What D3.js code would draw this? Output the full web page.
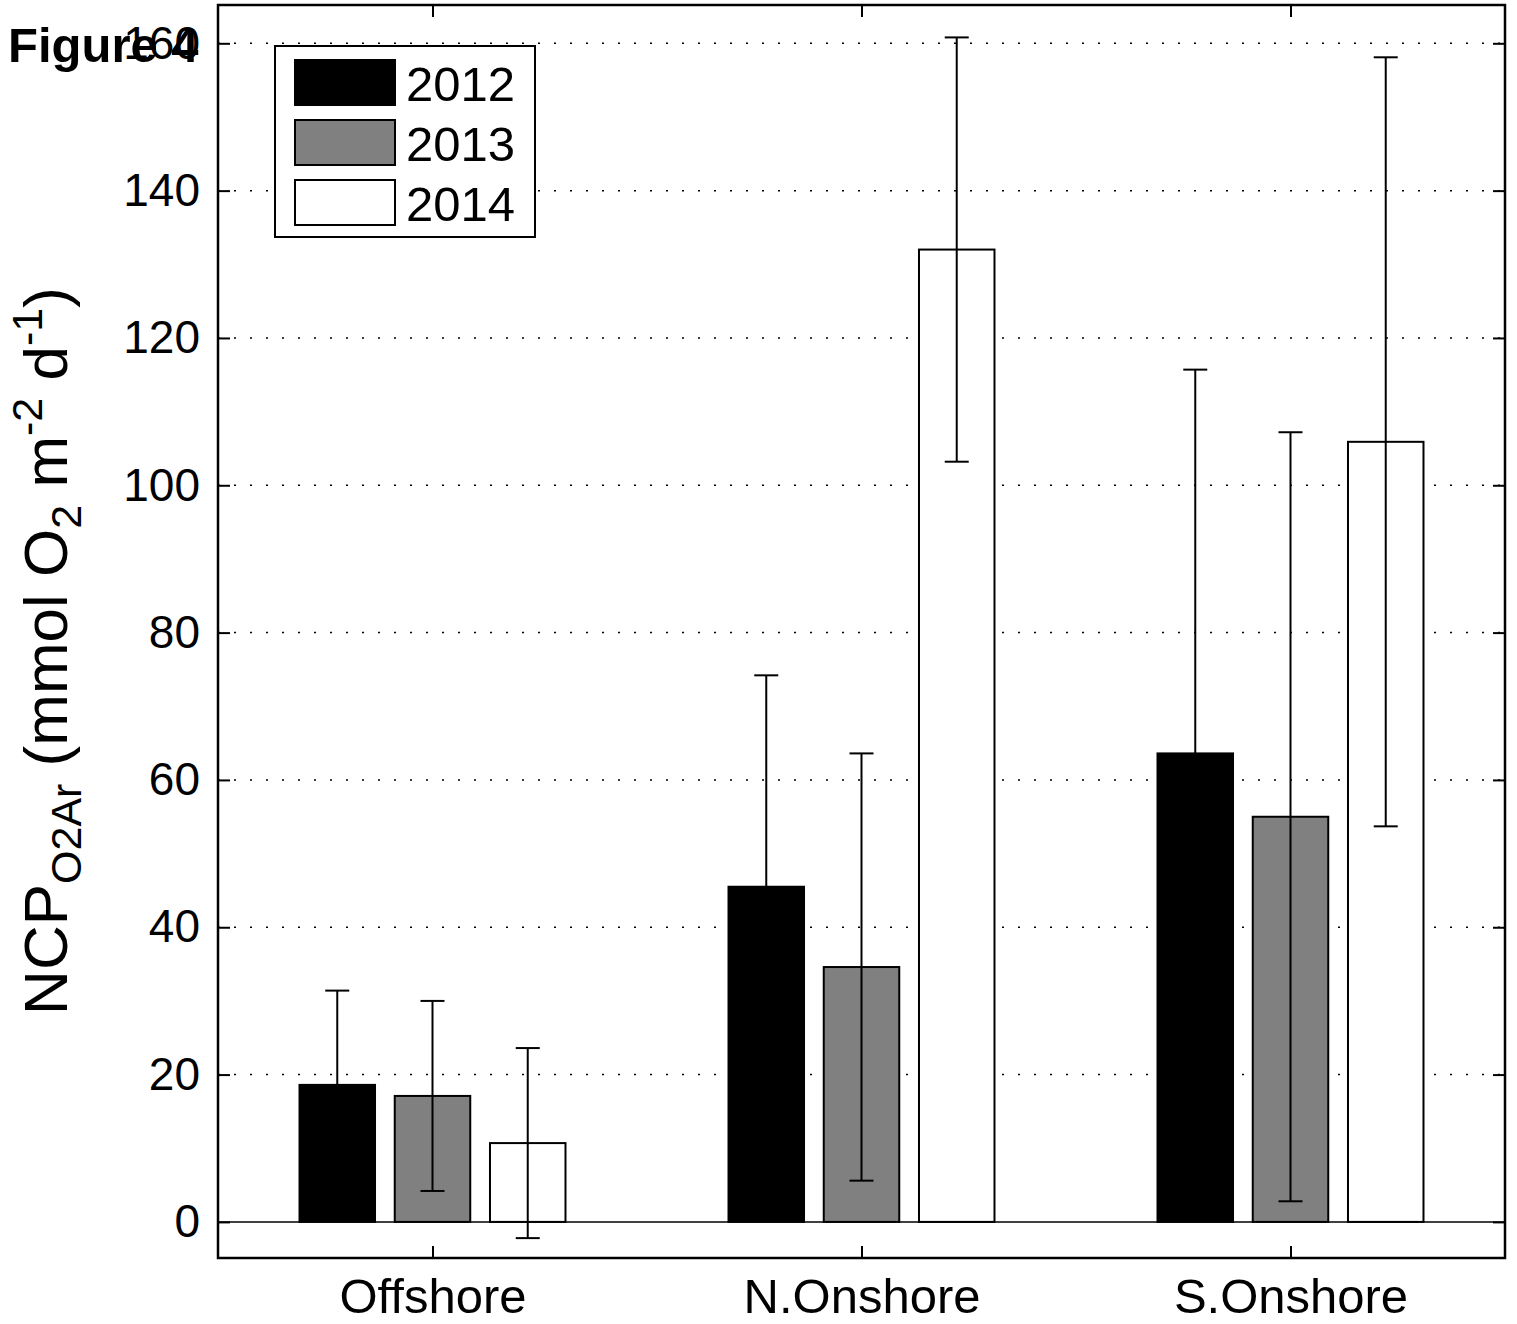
<!DOCTYPE html>
<html>
<head>
<meta charset="utf-8">
<script src="https://cdn.jsdelivr.net/npm/d3@7"></script>
<style>
  body { margin: 0; background: #fff; }
  text { font-family: "Liberation Sans", Arial, sans-serif; }
</style>
</head>
<body>
<svg width="1517" height="1324"></svg>
<script>
// data
let sites = ["Offshore", "N.Onshore", "S.Onshore"];
let years = ["2012", "2013", "2014"];
let yearColors = ["#000000", "#808080", "#ffffff"];
let ncp2012 = [18.6, 45.5, 63.6];
let ncp2013 = [17.1, 34.6, 55.0];
let ncp2014 = [10.7, 132.0, 105.9];
let err2012 = [12.8, 28.7, 52.1];
let err2013 = [12.9, 29.0, 52.2];
let err2014 = [12.9, 28.8, 52.2];
let yTicks = [0, 20, 40, 60, 80, 100, 120, 140, 160];

let values = [ncp2012, ncp2013, ncp2014];
let errors = [err2012, err2013, err2014];

let svg = d3.select("svg");
let pLeft = 218, pRight = 1505, pTop = 5, pBottom = 1258;

// x positions 1..3, axis limits 0.5..3.5 like matlab
let x = d3.scaleLinear().domain([0.5, 3.5]).range([pLeft, pRight]);
let y = d3.scaleLinear().domain([-4.9, 165.2]).range([pBottom, pTop]);
let barOffset = [-0.222, 0, 0.222];
let barW = 0.176;

// dotted grid
svg.append("g")
    .selectAll("line")
    .data(yTicks.filter(d => d !== 0))
    .enter().append("line")
    .attr("x1", pLeft).attr("x2", pRight)
    .attr("y1", d => y(d)).attr("y2", d => y(d))
    .attr("stroke", "#000")
    .attr("stroke-width", 1.5)
    .attr("stroke-dasharray", "2,14");

// zero line
svg.append("line")
    .attr("x1", pLeft).attr("x2", pRight)
    .attr("y1", y(0)).attr("y2", y(0))
    .attr("stroke", "#000").attr("stroke-width", 1.5);

// bars
let rows = [];
years.forEach(function (yr, j) {
    sites.forEach(function (s, i) {
        rows.push({site: i, year: j, v: values[j][i], e: errors[j][i]});
    });
});

svg.append("g")
    .selectAll("rect")
    .data(rows)
    .enter().append("rect")
    .attr("x", d => x(d.site + 1 + barOffset[d.year] - barW / 2))
    .attr("width", d => x(barW) - x(0))
    .attr("y", d => y(d.v))
    .attr("height", d => y(0) - y(d.v))
    .attr("fill", d => yearColors[d.year])
    .attr("stroke", "#000")
    .attr("stroke-width", 2);

// error bars
let eb = svg.append("g").selectAll("g")
    .data(rows)
    .enter().append("g")
    .attr("stroke", "#000")
    .attr("stroke-width", 2);

let cx = d => x(d.site + 1 + barOffset[d.year]);
eb.append("line")
    .attr("x1", cx).attr("x2", cx)
    .attr("y1", d => y(d.v - d.e)).attr("y2", d => y(d.v + d.e));
eb.append("line")
    .attr("x1", d => cx(d) - 12).attr("x2", d => cx(d) + 12)
    .attr("y1", d => y(d.v + d.e)).attr("y2", d => y(d.v + d.e));
eb.append("line")
    .attr("x1", d => cx(d) - 12).attr("x2", d => cx(d) + 12)
    .attr("y1", d => y(d.v - d.e)).attr("y2", d => y(d.v - d.e));

// axes box with inward ticks
let yAxisL = d3.axisLeft(y).tickValues(yTicks).tickSize(-12).tickPadding(18);
let yAxisR = d3.axisRight(y).tickValues(yTicks).tickSize(-12).tickFormat("");
let xAxisB = d3.axisBottom(x).tickValues([1, 2, 3]).tickSize(-12).tickPadding(20)
    .tickFormat((d, i) => sites[i]);
let xAxisT = d3.axisTop(x).tickValues([1, 2, 3]).tickSize(-12).tickFormat("");

function styleAxis(g, fs) {
    g.select(".domain").remove();
    g.selectAll("line").attr("stroke", "#000").attr("stroke-width", 2);
    g.selectAll("text").attr("font-size", fs).attr("fill", "#000")
        .style("font-family", "'Liberation Sans', Arial, sans-serif");
}

svg.append("g").attr("transform", `translate(${pLeft},0)`).call(yAxisL).call(g => styleAxis(g, 46));
svg.append("g").attr("transform", `translate(${pRight},0)`).call(yAxisR).call(g => styleAxis(g, 46));
svg.append("g").attr("transform", `translate(0,${pBottom})`).call(xAxisB).call(g => styleAxis(g, 49));
svg.append("g").attr("transform", `translate(0,${pTop})`).call(xAxisT).call(g => styleAxis(g, 49));

svg.append("rect")
    .attr("x", pLeft).attr("y", pTop)
    .attr("width", pRight - pLeft).attr("height", pBottom - pTop)
    .attr("fill", "none").attr("stroke", "#000").attr("stroke-width", 2.5);

// y label
let yl = svg.append("text")
    .attr("transform", "translate(67,651) rotate(-90)")
    .attr("text-anchor", "middle")
    .attr("font-size", 62)
    .attr("fill", "#000");
yl.append("tspan").text("NCP");
yl.append("tspan").attr("font-size", 43).attr("dy", 14).text("O2Ar");
yl.append("tspan").attr("dy", -14).text(" (mmol O");
yl.append("tspan").attr("font-size", 43).attr("dy", 14).text("2");
yl.append("tspan").attr("dy", -14).text(" m");
yl.append("tspan").attr("font-size", 43).attr("dy", -25).text("-2");
yl.append("tspan").attr("dy", 25).text(" d");
yl.append("tspan").attr("font-size", 43).attr("dy", -25).text("-1");
yl.append("tspan").attr("dy", 25).text(")");

// legend
let leg = svg.append("g").attr("transform", "translate(275,46)");
leg.append("rect")
    .attr("width", 260).attr("height", 191)
    .attr("fill", "#fff").attr("stroke", "#000").attr("stroke-width", 2);
let li = leg.selectAll("g.item")
    .data(years)
    .enter().append("g")
    .attr("class", "item")
    .attr("transform", (d, i) => `translate(0,${14 + i * 60})`);
li.append("rect")
    .attr("x", 20).attr("width", 100).attr("height", 45)
    .attr("fill", (d, i) => yearColors[i])
    .attr("stroke", "#000").attr("stroke-width", 2);
li.append("text")
    .attr("x", 131).attr("y", 41)
    .attr("font-size", 49)
    .attr("fill", "#000")
    .text(d => d);

// figure tag
svg.append("text")
    .attr("x", 8).attr("y", 62)
    .attr("font-size", 49)
    .attr("font-weight", "bold")
    .attr("fill", "#000")
    .text("Figure 4");
</script>
</body>
</html>
